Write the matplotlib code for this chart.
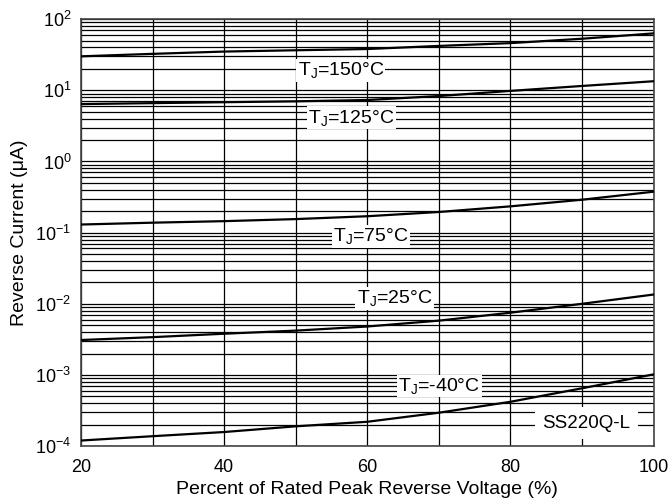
import numpy as np
import matplotlib
matplotlib.use("Agg")
import matplotlib.pyplot as plt
from matplotlib.ticker import LogLocator, FixedLocator, NullFormatter

plt.rcParams['font.family'] = ['Liberation Sans', 'DejaVu Sans']
plt.rcParams['mathtext.fontset'] = 'custom'
plt.rcParams['mathtext.rm'] = 'Liberation Sans'
plt.rcParams['mathtext.it'] = 'Liberation Sans'

# data
volt = [20, 30, 40, 50, 60, 70, 80, 90, 100]
i_150 = [30, 32.5, 35, 36.5, 38, 42, 46, 53, 63]
i_125 = [6.4, 6.6, 6.8, 7.0, 7.3, 8.3, 9.8, 11.5, 13.4]
i_75 = [0.13, 0.138, 0.145, 0.155, 0.17, 0.195, 0.234, 0.29, 0.376]
i_25 = [0.0031, 0.0034, 0.0038, 0.0042, 0.0048, 0.0058, 0.0075, 0.010, 0.0135]
i_m40 = [1.2e-4, 1.38e-4, 1.58e-4, 1.9e-4, 2.2e-4, 2.95e-4, 4.2e-4, 6.5e-4, 1.02e-3]

labels = [r'T$_\mathrm{J}$=150°C', r'T$_\mathrm{J}$=125°C', r'T$_\mathrm{J}$=75°C',
          r'T$_\mathrm{J}$=25°C', r'T$_\mathrm{J}$=-40°C']
label_x = [56.3, 57.8, 60.5, 63.8, 70.1]
label_y = [19, 4.1, 0.089, 0.012, 7e-4]

fig = plt.figure(figsize=(6.72, 5.03), dpi=100)
ax = fig.add_axes([0.1205, 0.113, 0.852, 0.849])

for c in [i_150, i_125, i_75, i_25, i_m40]:
    ax.plot(volt, c, color='black', lw=1.6, zorder=3)

ax.set_yscale('log')
ax.set_xlim(20, 100)
ax.set_ylim(1e-4, 1e2)
ax.xaxis.set_major_locator(FixedLocator([20, 40, 60, 80, 100]))
ax.xaxis.set_minor_locator(FixedLocator(np.arange(20, 101, 10)))
ax.xaxis.set_minor_formatter(NullFormatter())
ax.yaxis.set_major_locator(LogLocator(base=10, numticks=10))
ax.yaxis.set_minor_locator(LogLocator(base=10, subs=np.arange(2, 10), numticks=20))
ax.yaxis.set_minor_formatter(NullFormatter())
ax.grid(True, which='both', color='black', lw=0.9)
ax.tick_params(which='both', length=0, labelsize=13)
ax.tick_params(axis='x', pad=9)
ax.tick_params(axis='y', pad=7)
for s in ax.spines.values():
    s.set_color('#444444')
    s.set_linewidth(1.2)

for t, x, y in zip(labels, label_x, label_y):
    ax.text(x, y, t, fontsize=14, ha='center', va='center', zorder=4,
            bbox=dict(facecolor='white', edgecolor='none', pad=1.0))

ax.text(90.6, 2.1e-4, 'SS220Q-L', fontsize=13.5, ha='center', va='center', zorder=4,
        bbox=dict(facecolor='white', edgecolor='none', boxstyle='square,pad=0.4'))

ax.set_xlabel('Percent of Rated Peak Reverse Voltage (%)', fontsize=14, va='center')
ax.set_ylabel('Reverse Current (μA)', fontsize=14)
ax.xaxis.set_label_coords(0.5, -0.102)
ax.yaxis.set_label_coords(-0.092, 0.5)

fig.savefig('out.png', dpi=100)
